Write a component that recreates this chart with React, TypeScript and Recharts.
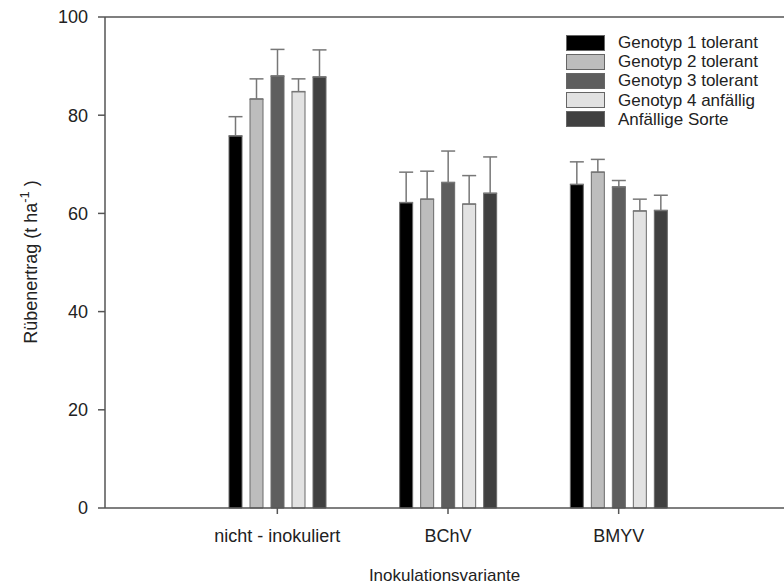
import React from "react";
import {
    BarChart,
    Bar,
    XAxis,
    YAxis,
    ErrorBar,
    ReferenceLine,
} from "recharts";

const categories = ["nicht - inokuliert", "BChV", "BMYV"];

const seriesNames = [
    "Genotyp 1 tolerant",
    "Genotyp 2 tolerant",
    "Genotyp 3 tolerant",
    "Genotyp 4 anfällig",
    "Anfällige Sorte",
];

// mean yield per series, one value per category
const means = [
    [75.8, 62.2, 65.9],
    [83.3, 62.9, 68.4],
    [88.0, 66.3, 65.4],
    [84.8, 61.9, 60.5],
    [87.8, 64.1, 60.6],
];

// upper error (standard deviation)
const errors = [
    [3.9, 6.2, 4.6],
    [4.1, 5.7, 2.6],
    [5.4, 6.4, 1.3],
    [2.6, 5.8, 2.4],
    [5.5, 7.4, 3.1],
];

const yTicks = [0, 20, 40, 60, 80, 100];

const COLORS = ["#000000", "#bdbdbd", "#5e5e5e", "#e2e2e2", "#404040"];

const FONT = "'Liberation Sans', Arial, sans-serif";
const AXIS = "#555555";
const TEXT = "#222222";

const data = categories.map((name, i) => {
    const row: any = { name };
    seriesNames.forEach((_, s) => {
        row[`m${s}`] = means[s][i];
        row[`e${s}`] = [0, errors[s][i]];
    });
    return row;
});

// legend sits inside the plot, so keep it out of recharts' layout
const LegendBox = () => (
    <div style={{ position: "absolute", top: 33, left: 566, fontFamily: FONT, fontSize: 17, lineHeight: "19px", color: TEXT }}>
        {seriesNames.map((n, i) => (
            <div key={n} style={{ display: "flex", alignItems: "center", height: 19.2 }}>
                <div
                    style={{
                        width: 37,
                        height: 14,
                        background: COLORS[i],
                        border: "1px solid #666",
                        marginRight: 13,
                    }}
                />
                <span>{n}</span>
            </div>
        ))}
    </div>
);

const YLabel = () => (
    <text
        transform="translate(37,262) rotate(-90)"
        textAnchor="middle"
        fontSize={18}
        fontFamily={FONT}
        fill={TEXT}
    >
        Rübenertrag (t ha
        <tspan dy={-8} fontSize={13}>
            -1
        </tspan>
        <tspan dy={8}> )</tspan>
    </text>
);

const App: React.FC = () => {
    return (
        <div style={{ position: "absolute", left: 0, top: 0, width: 784, height: 585, overflow: "hidden", background: "#fff" }}>
            <BarChart
                width={784}
                height={585}
                data={data}
                margin={{ top: 17, right: 0, left: 0, bottom: 0 }}
                barSize={13}
                barGap={8}
            >
                <XAxis
                    dataKey="name"
                    height={77}
                    padding={{ left: 87, right: 80 }}
                    stroke={AXIS}
                    strokeWidth={1.5}
                    tickSize={6}
                    tickMargin={15}
                    tick={{ fill: TEXT, fontSize: 18, fontFamily: FONT }}
                    label={{
                        value: "Inokulationsvariante",
                        position: "insideBottom",
                        offset: 4,
                        fill: TEXT,
                        fontSize: 17,
                        fontFamily: FONT,
                    }}
                />
                <YAxis
                    width={105}
                    domain={[0, 100]}
                    ticks={yTicks}
                    stroke={AXIS}
                    strokeWidth={1.5}
                    tickSize={7}
                    tickMargin={10}
                    tick={{ fill: TEXT, fontSize: 18, fontFamily: FONT }}
                    label={<YLabel />}
                />
                <ReferenceLine y={100} stroke={AXIS} strokeWidth={1.5} />
                {seriesNames.map((n, s) => (
                    <Bar
                        key={n}
                        name={n}
                        dataKey={`m${s}`}
                        fill={COLORS[s]}
                        stroke="#6a6a6a"
                        strokeWidth={1}
                        isAnimationActive={false}
                    >
                        <ErrorBar
                            dataKey={`e${s}`}
                            width={7}
                            stroke="#777"
                            strokeWidth={1.5}
                            isAnimationActive={false}
                        />
                    </Bar>
                ))}
            </BarChart>
            <LegendBox />
        </div>
    );
};

export default App;
